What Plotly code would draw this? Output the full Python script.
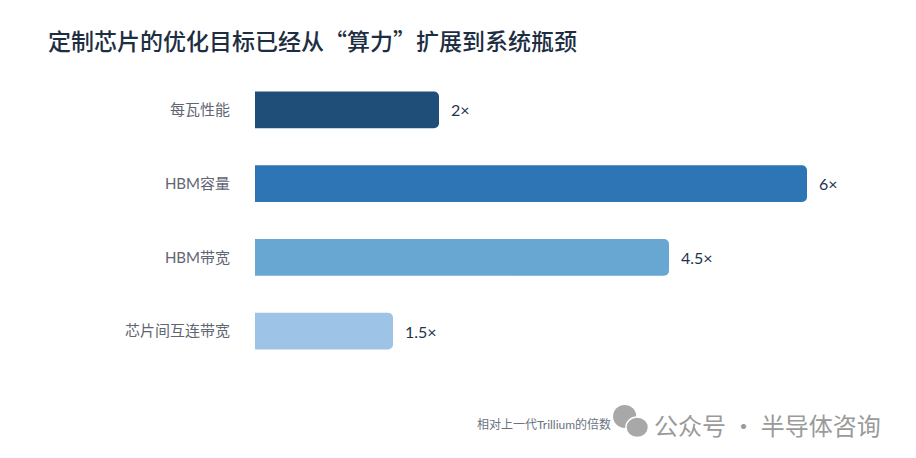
import plotly.graph_objects as go

categories = ["每瓦性能", "HBM容量", "HBM带宽", "芯片间互连带宽"]
values = [2, 6, 4.5, 1.5]
value_labels = ["2×", "6×", "4.5×", "1.5×"]
colors = ["#1f4e79", "#2e75b6", "#69a7d3", "#9dc3e6"]

title_text = "定制芯片的优化目标已经从“算力”扩展到系统瓶颈"
axis_note = "相对上一代Trillium的倍数"
watermark = "公众号 · 半导体咨询"

FONT = "Lato, Noto Sans CJK SC, sans-serif"

fig = go.Figure()
fig.add_trace(go.Bar(
    y=categories, x=values, orientation="h",
    marker=dict(color=colors, line=dict(width=0)),
    width=0.5, hoverinfo="skip",
))

for c, v, t in zip(categories, values, value_labels):
    fig.add_annotation(x=v, y=c, text=t, showarrow=False, xanchor="left",
                       xshift=10, font=dict(family=FONT, size=16, color="#1e3350"))

fig.add_annotation(xref="paper", yref="paper", x=0.342, y=-0.19, xanchor="left",
                   yanchor="middle", text=axis_note, showarrow=False,
                   font=dict(family=FONT, size=12, color="#6b7380"))
fig.add_annotation(xref="paper", yref="paper", x=0.617, y=-0.19, xanchor="left",
                   yanchor="middle", text=watermark, showarrow=False,
                   font=dict(family="Noto Sans CJK SC", size=24, color="#9a9a9a"))
# simple wechat-like icon
fig.add_shape(type="circle", xref="paper", yref="paper", x0=0.556, x1=0.592,
              y0=-0.203, y1=-0.125, fillcolor="#a8a8a8", line=dict(width=0))
fig.add_shape(type="circle", xref="paper", yref="paper", x0=0.576, x1=0.611,
              y0=-0.236, y1=-0.166, fillcolor="#a8a8a8", line=dict(color="white", width=1.5))

fig.update_layout(
    width=916, height=458,
    margin=dict(l=247, r=25, t=65, b=98),
    paper_bgcolor="white", plot_bgcolor="white",
    barcornerradius=5,
    showlegend=False,
    font=dict(family=FONT),
    title=dict(text=title_text, xref="container", yref="container",
               x=40 / 916, y=1 - 34 / 458, xanchor="left", yanchor="middle",
               font=dict(family="Noto Sans CJK SC", size=23, weight=500, color="#1e2e42")),
    xaxis=dict(range=[0, 7], visible=False, fixedrange=True),
    yaxis=dict(autorange="reversed", showgrid=False, zeroline=False, showline=False,
               ticks="", ticklabelstandoff=24,
               tickfont=dict(family=FONT, size=15, color="#5f6672")),
)

fig.write_html("out.html")
